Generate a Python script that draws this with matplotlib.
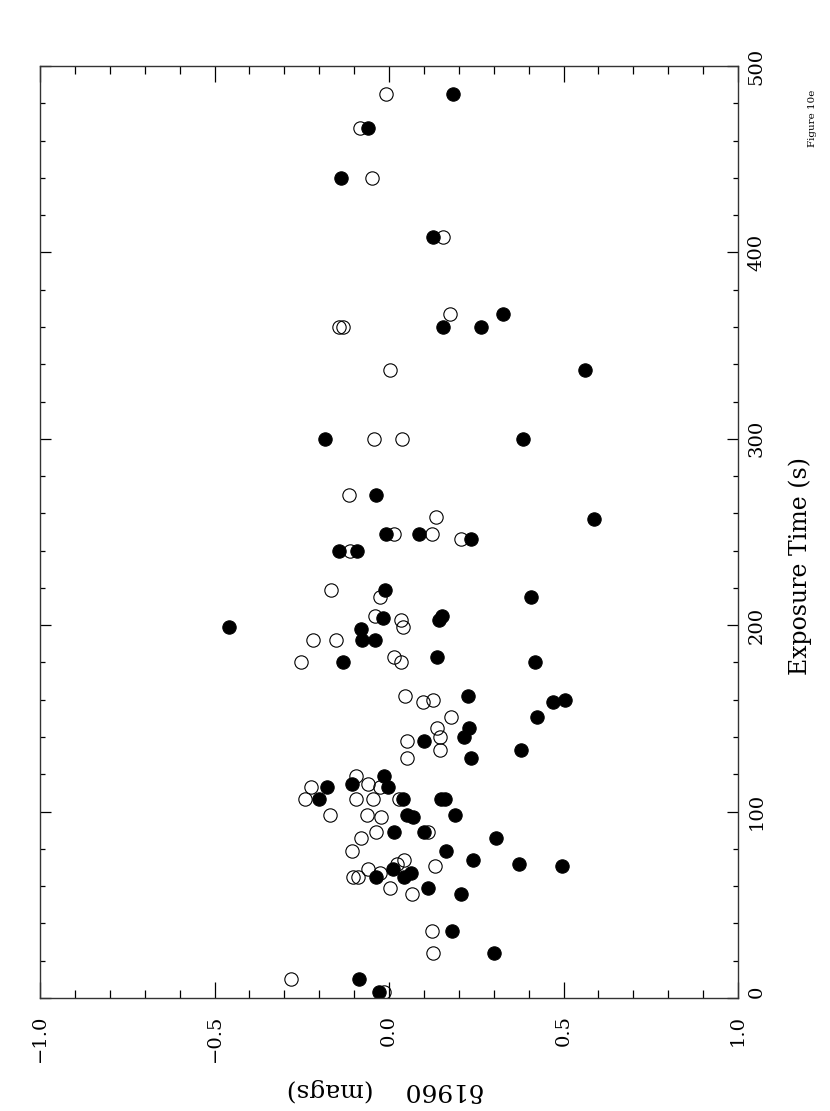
"""Figure 10e: delta-1960 residuals vs exposure time, drawn in the rotated (landscape-on-portrait) frame."""
import matplotlib

matplotlib.use("Agg")
import matplotlib.pyplot as plt

# filled symbols: exposure time (s), delta 1960 (mags)
filled_t = [485, 467, 440, 408, 367, 360, 360, 337, 300, 300, 270, 257, 249, 249,
            246, 240, 240, 219, 215, 204, 205, 203, 199, 198, 192, 192, 180, 183,
            180, 162, 159, 160, 151, 145, 138, 140, 133, 129, 119, 113, 115, 113,
            107, 107, 107, 107, 98, 97, 98, 89, 89, 86, 79, 74, 72, 71, 69, 67, 65,
            65, 59, 56, 36, 24, 10, 3]
filled_d = [0.184, -0.060, -0.137, 0.125, 0.326, 0.155, 0.264, 0.563, -0.183, 0.385,
            -0.037, 0.587, -0.009, 0.085, 0.234, -0.143, -0.091, -0.012, 0.408, -0.018,
            0.153, 0.143, -0.458, -0.079, -0.076, -0.040, -0.131, 0.137, 0.418, 0.226,
            0.471, 0.503, 0.423, 0.229, 0.100, 0.214, 0.379, 0.236, -0.013, -0.177,
            -0.105, -0.004, -0.202, 0.040, 0.149, 0.161, 0.053, 0.069, 0.188, 0.014,
            0.100, 0.307, 0.163, 0.241, 0.372, 0.497, 0.011, 0.064, 0.042, -0.036,
            0.111, 0.207, 0.181, 0.300, -0.087, -0.030]

# open symbols
open_t = [485, 467, 440, 408, 367, 360, 360, 337, 300, 300, 270, 258, 249, 249, 246,
          240, 219, 215, 205, 203, 199, 192, 192, 180, 183, 180, 162, 159, 160, 151,
          145, 140, 138, 133, 129, 119, 113, 115, 113, 107, 107, 107, 107, 98, 98, 97,
          89, 86, 89, 79, 74, 72, 71, 69, 67, 65, 65, 59, 56, 36, 24, 10, 3]
open_d = [-0.008, -0.084, -0.049, 0.154, 0.176, -0.144, -0.132, 0.002, -0.042, 0.037,
          -0.116, 0.136, 0.015, 0.123, 0.205, -0.113, -0.167, -0.027, -0.039, 0.033,
          0.039, -0.217, -0.152, -0.253, 0.015, 0.035, 0.047, 0.096, 0.126, 0.179,
          0.138, 0.147, 0.052, 0.145, 0.052, -0.094, -0.223, -0.060, -0.025, -0.242,
          -0.094, -0.046, 0.028, -0.168, -0.062, -0.023, -0.038, -0.079, 0.112,
          -0.106, 0.044, 0.023, 0.132, -0.060, -0.025, -0.103, -0.090, 0.002, 0.066,
          0.123, 0.126, -0.281, -0.013]

delta_ticks = [-1.0, -0.5, 0.0, 0.5, 1.0]
delta_labels = ["\u22121.0", "\u22120.5", "0.0", "0.5", "1.0"]
time_ticks = [0, 100, 200, 300, 400, 500]

FONT = "DejaVu Serif"
plt.rcParams["font.family"] = FONT

fig = plt.figure(figsize=(8.30, 11.11), dpi=100)
ax = fig.add_axes([40 / 830, 113 / 1111, 698 / 830, 932 / 1111])

ms = 9.6
ax.plot(open_d, open_t, "o", ls="none", ms=ms, mfc="none", mec="black", mew=0.8)
ax.plot(filled_d, filled_t, "o", ls="none", ms=ms, mfc="black", mec="black", mew=0.8)

ax.set_xlim(-1, 1)
ax.set_ylim(0, 500)

ax.set_xticks(delta_ticks, delta_labels)
ax.set_xticks([v / 10 for v in range(-10, 11)], minor=True)
ax.set_yticks(time_ticks, [str(t) for t in time_ticks])
ax.set_yticks(range(0, 501, 20), minor=True)

ax.tick_params(axis="x", which="major", direction="in", length=11.5, width=0.9,
               top=True, bottom=True, labelsize=14, pad=12, labelrotation=90)
ax.tick_params(axis="x", which="minor", direction="in", length=5.8, width=0.9,
               top=True, bottom=True)
ax.tick_params(axis="y", which="major", direction="in", length=7.9, width=0.9,
               left=True, right=True, labelleft=False, labelright=True,
               labelsize=14, pad=7, labelrotation=90)
ax.tick_params(axis="y", which="minor", direction="in", length=3.8, width=0.9,
               left=True, right=True)
for lab in ax.get_yticklabels():
    lab.set_va("center")
ax.get_yticklabels()[0].set_va("bottom")

for sp in ax.spines.values():
    sp.set_linewidth(1.0)
    sp.set_color("#333333")

fig.text(800 / 830, 1 - 566 / 1111, "Exposure Time (s)", rotation=90,
         ha="center", va="center", fontsize=17)
fig.text(385 / 830, 1 - 1090 / 1111, "\u03b41960    (mags)", rotation=180,
         ha="center", va="center", fontsize=18)
fig.text(812 / 830, 1 - 118 / 1111, "Figure 10e", rotation=90,
         ha="center", va="center", fontsize=7.5)

fig.savefig("out.png", dpi=100)
